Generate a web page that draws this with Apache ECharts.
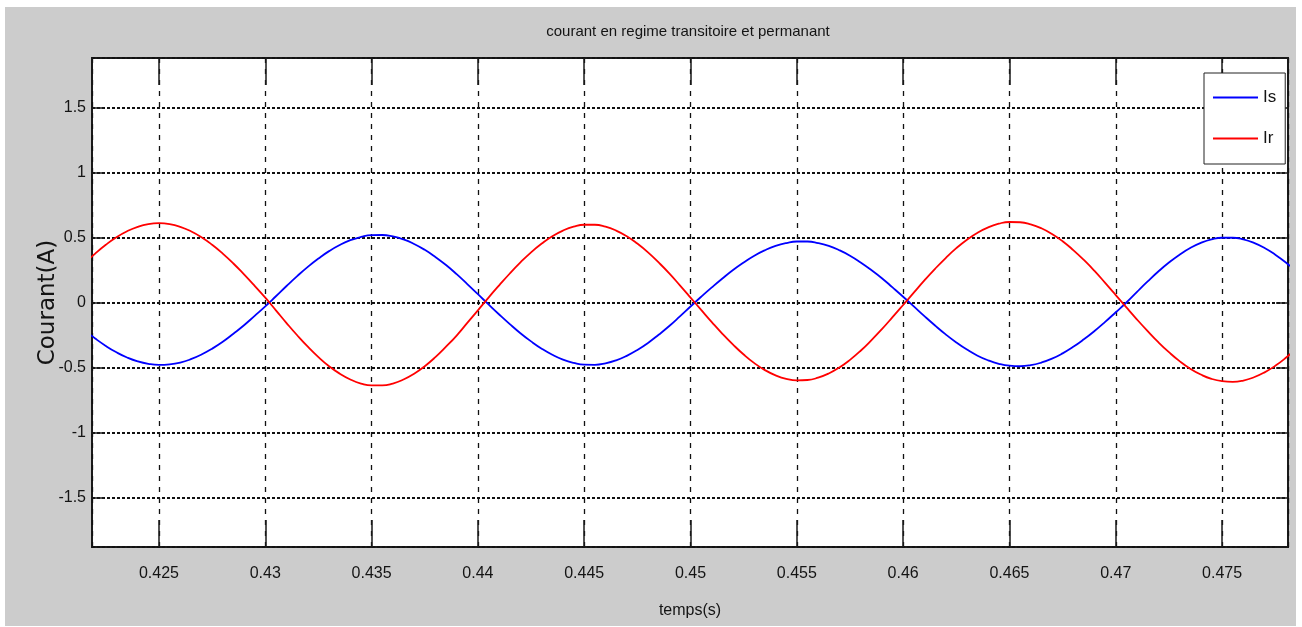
<!DOCTYPE html>
<html>
<head>
<meta charset="utf-8">
<script src="https://cdn.jsdelivr.net/npm/echarts@6/dist/echarts.min.js"></script>
<style>
  html, body { margin: 0; padding: 0; background: #ffffff; }
  #wrap { position: relative; width: 1302px; height: 627px; background: #ffffff; }
  #chart { position: absolute; left: 5px; top: 7px; width: 1291px; height: 619px; }
</style>
</head>
<body>
<div id="wrap"><div id="chart"></div></div>
<script>
// ---- data ----
const titleText = 'courant en regime transitoire et permanant';
const xName = 'temps(s)';
const yName = 'Courant(A)';
const seriesNames = ['Is', 'Ir'];

const t = [0.4210,0.4215,0.4220,0.4225,0.4230,0.4235,0.4240,0.4245,0.4250,0.4255,
           0.4260,0.4265,0.4270,0.4275,0.4280,0.4285,0.4290,0.4295,0.4300,0.4305,
           0.4310,0.4315,0.4320,0.4325,0.4330,0.4335,0.4340,0.4345,0.4350,0.4355,
           0.4360,0.4365,0.4370,0.4375,0.4380,0.4385,0.4390,0.4395,0.4400,0.4405,
           0.4410,0.4415,0.4420,0.4425,0.4430,0.4435,0.4440,0.4445,0.4450,0.4455,
           0.4460,0.4465,0.4470,0.4475,0.4480,0.4485,0.4490,0.4495,0.4500,0.4505,
           0.4510,0.4515,0.4520,0.4525,0.4530,0.4535,0.4540,0.4545,0.4550,0.4555,
           0.4560,0.4565,0.4570,0.4575,0.4580,0.4585,0.4590,0.4595,0.4600,0.4605,
           0.4610,0.4615,0.4620,0.4625,0.4630,0.4635,0.4640,0.4645,0.4650,0.4655,
           0.4660,0.4665,0.4670,0.4675,0.4680,0.4685,0.4690,0.4695,0.4700,0.4705,
           0.4710,0.4715,0.4720,0.4725,0.4730,0.4735,0.4740,0.4745,0.4750,0.4755,
           0.4760,0.4765,0.4770,0.4775,0.4780,0.4785];

const Is = [-0.145,-0.214,-0.277,-0.334,-0.383,-0.423,-0.453,-0.472,-0.480,-0.476,
            -0.462,-0.436,-0.400,-0.355,-0.302,-0.240,-0.175,-0.103,-0.030, 0.048,
             0.127, 0.203, 0.274, 0.338, 0.395, 0.442, 0.479, 0.504, 0.518, 0.519,
             0.508, 0.485, 0.450, 0.405, 0.350, 0.288, 0.218, 0.142, 0.064,-0.015,
            -0.092,-0.166,-0.236,-0.299,-0.355,-0.402,-0.439,-0.464,-0.478,-0.479,
            -0.468,-0.445,-0.410,-0.365,-0.311,-0.248,-0.181,-0.107,-0.031, 0.044,
             0.116, 0.185, 0.250, 0.308, 0.360, 0.402, 0.435, 0.457, 0.469, 0.469,
             0.457, 0.435, 0.402, 0.360, 0.308, 0.250, 0.187, 0.116, 0.044,-0.030,
            -0.105,-0.177,-0.245,-0.307,-0.362,-0.409,-0.445,-0.471,-0.486,-0.490,
            -0.482,-0.462,-0.432,-0.391,-0.341,-0.283,-0.219,-0.149,-0.075, 0.000,
             0.082, 0.162, 0.238, 0.307, 0.368, 0.419, 0.458, 0.485, 0.498, 0.498,
             0.485, 0.458, 0.419, 0.368, 0.308, 0.238];

const Ir = [ 0.216, 0.300, 0.376, 0.444, 0.502, 0.548, 0.582, 0.603, 0.610, 0.603,
             0.582, 0.548, 0.502, 0.444, 0.376, 0.300, 0.216, 0.128, 0.037,-0.060,
            -0.158,-0.252,-0.340,-0.420,-0.490,-0.547,-0.592,-0.623,-0.638,-0.638,
            -0.623,-0.592,-0.548,-0.490,-0.420,-0.340,-0.254,-0.157,-0.060, 0.038,
             0.132, 0.223, 0.308, 0.386, 0.453, 0.510, 0.553, 0.583, 0.598, 0.598,
             0.583, 0.553, 0.510, 0.453, 0.386, 0.308, 0.224, 0.132, 0.038,-0.057,
            -0.151,-0.241,-0.324,-0.400,-0.466,-0.520,-0.560,-0.587,-0.599,-0.596,
            -0.578,-0.546,-0.500,-0.441,-0.371,-0.291,-0.205,-0.113,-0.019, 0.076,
             0.170, 0.259, 0.342, 0.418, 0.483, 0.537, 0.578, 0.606, 0.619, 0.617,
             0.601, 0.571, 0.527, 0.471, 0.403, 0.327, 0.243, 0.151, 0.057,-0.038,
            -0.131,-0.220,-0.305,-0.382,-0.451,-0.509,-0.554,-0.587,-0.605,-0.610,
            -0.600,-0.575,-0.537,-0.487,-0.425,-0.352];

const xMin = 0.42185, xMax = 0.4781;
const yMin = -1.88, yMax = 1.88;

// ---- chart ----
const SANS = "'Liberation Sans', Arial, sans-serif";
const txt = '#141414';
const chart = echarts.init(document.getElementById('chart'), null, { renderer: 'canvas' });

const tickStyle = { color: '#1a1a1a', width: 1.5 };

const option = {
  backgroundColor: '#cccccc',
  animation: false,
  title: {
    text: titleText,
    left: 683, top: 17, textAlign: 'center', padding: 0,
    textStyle: { fontFamily: SANS, fontSize: 15, fontWeight: 'normal', color: txt }
  },
  legend: {
    data: seriesNames,
    orient: 'vertical',
    left: 1199, top: 66,
    icon: 'rect', itemWidth: 45, itemHeight: 2, itemGap: 24,
    padding: [16, 9, 17, 9],
    borderColor: '#222', borderWidth: 1, backgroundColor: '#ffffff',
    textStyle: { fontFamily: SANS, fontSize: 17, color: txt }
  },
  grid: {
    left: 87, top: 51, width: 1196, height: 489,
    show: true, backgroundColor: '#ffffff', borderColor: '#1a1a1a', borderWidth: 2,
    containLabel: false
  },
  xAxis: [{
    type: 'value', min: xMin, max: xMax, splitNumber: 11, position: 'bottom',
    name: xName, nameLocation: 'middle', nameGap: 56,
    nameTextStyle: { fontFamily: SANS, fontSize: 16, color: txt },
    axisLine: { show: false, onZero: false },
    axisTick: { show: true, inside: true, length: 27, lineStyle: tickStyle },
    axisLabel: { fontFamily: SANS, fontSize: 16, color: txt, margin: 19,
                 showMinLabel: false, showMaxLabel: false },
    splitLine: { show: true, lineStyle: { color: '#111', width: 1.3, type: [5, 6] } }
  }, {
    type: 'value', min: xMin, max: xMax, splitNumber: 11, position: 'top',
    axisLine: { show: false, onZero: false },
    axisTick: { show: true, inside: true, length: 27, lineStyle: tickStyle },
    axisLabel: { show: false },
    splitLine: { show: false }
  }],
  yAxis: [{
    type: 'value', min: yMin, max: yMax, splitNumber: 7, position: 'left',
    name: yName, nameLocation: 'middle', nameGap: 32, nameRotate: 90,
    nameMoveOverlap: false,
    nameTextStyle: { fontFamily: "'DejaVu Sans', sans-serif", fontSize: 23, color: txt },
    axisLine: { show: false, onZero: false },
    axisTick: { show: true, inside: true, length: 12, lineStyle: tickStyle },
    axisLabel: { fontFamily: SANS, fontSize: 16, color: txt, margin: 6,
                 showMinLabel: false, showMaxLabel: false },
    splitLine: { show: true, lineStyle: { color: '#111', width: 2, type: [3, 2] } }
  }, {
    type: 'value', min: yMin, max: yMax, splitNumber: 7, position: 'right',
    axisLine: { show: false, onZero: false },
    axisTick: { show: true, inside: true, length: 12, lineStyle: tickStyle },
    axisLabel: { show: false },
    splitLine: { show: false }
  }],
  series: [{
    name: seriesNames[0], type: 'line', smooth: true, showSymbol: false, symbol: 'none',
    clip: true, color: '#0000ff', lineStyle: { color: '#0000ff', width: 1.8 },
    data: t.map((x, i) => [x, Is[i]])
  }, {
    name: seriesNames[1], type: 'line', smooth: true, showSymbol: false, symbol: 'none',
    clip: true, color: '#ff0000', lineStyle: { color: '#ff0000', width: 1.8 },
    data: t.map((x, i) => [x, Ir[i]])
  }]
};
chart.setOption(option);
</script>
</body>
</html>
